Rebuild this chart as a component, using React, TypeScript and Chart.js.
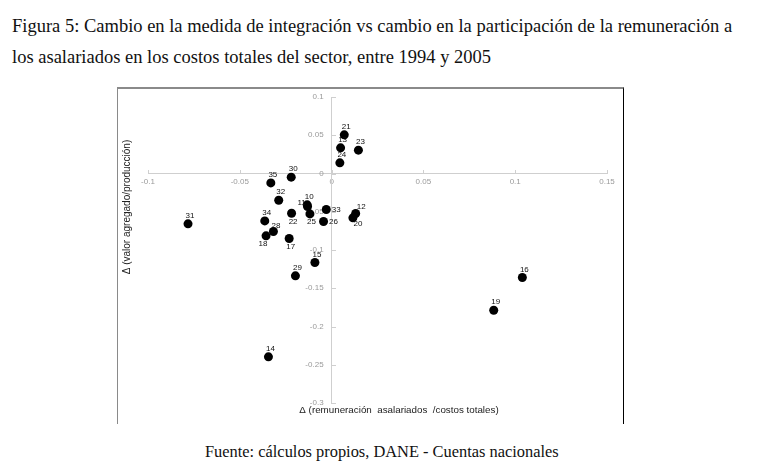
import React, { useEffect, useRef } from "react";
import { Chart, registerables } from "chart.js";

Chart.register(...registerables);

// ---- data ----
const SECTORS = ["10", "11", "12", "13", "14", "15", "16", "17", "18", "19", "20", "21", "22", "23", "24", "25", "26", "28", "29", "30", "31", "32", "33", "34", "35"];
const X_VALUES = [-0.0133, -0.0131, 0.0131, 0.0049, -0.0344, -0.0091, 0.1039, -0.0231, -0.0357, 0.0883, 0.0116, 0.0069, -0.0218, 0.0146, 0.0045, -0.0118, -0.0044, -0.0317, -0.0197, -0.022, -0.0782, -0.0288, -0.0029, -0.0364, -0.0331];
const Y_VALUES = [-0.041, -0.0433, -0.0523, 0.0335, -0.2397, -0.1163, -0.136, -0.085, -0.0815, -0.1787, -0.058, 0.0505, -0.052, 0.0305, 0.0139, -0.0528, -0.0627, -0.0758, -0.1338, -0.0048, -0.0658, -0.0349, -0.047, -0.062, -0.0123];
const LABEL_ANCHORS = ["t", "tl", "tr", "t", "t", "t", "t", "b", "bl", "t", "br", "t", "b", "t", "t", "b", "r", "ts", "t", "t", "t", "t", "r", "t", "t"];

const X_TICKS = [-0.1, -0.05, 0, 0.05, 0.1, 0.15];
const Y_TICKS = [0.1, 0.05, 0, -0.05, -0.1, -0.15, -0.2, -0.25, -0.3];

const TITLE_LINES = [
  "Figura 5: Cambio en la medida de integración vs cambio en la participación de la remuneración a",
  "los asalariados en los costos totales del sector, entre 1994 y 2005",
];
const SOURCE_NOTE = "Fuente: cálculos propios, DANE - Cuentas nacionales";
const X_TITLE = "Δ (remuneración  asalariados  /costos totales)";
const Y_TITLE = "Δ (valor agregado/producción)";

// ---- styles ----
const SANS = '"Liberation Sans", Arial, sans-serif';
const SERIF = '"Liberation Serif", "Times New Roman", serif';
const AXIS_COLOR = "#cfcfcf";
const TICK_TEXT = "#9a9a9a";
const Y_LABEL_GAP = "\u2002\u2002";
const ANCHOR_OFFSETS: Record<string, [number, number]> = {
  t: [2, -8],
  ts: [2.5, -6],
  b: [1.5, 8.3],
  bl: [-3, 7.7],
  r: [10, 0.5],
  tl: [-6, -3.5],
  tr: [5.5, -6.7],
  br: [5, 5.5],
};

const fmt = (v: number) => String(parseFloat(v.toFixed(2)));

const tickMarksPlugin = {
  id: "tickMarks",
  beforeDatasetsDraw(chart: any) {
    const { ctx, scales } = chart;
    const xs = scales.x;
    const ys = scales.y;
    const y0 = ys.getPixelForValue(0);
    const x0 = xs.getPixelForValue(0);
    ctx.save();
    ctx.strokeStyle = AXIS_COLOR;
    ctx.lineWidth = 1;
    ctx.beginPath();
    xs.ticks.forEach((t: any) => {
      const px = Math.round(xs.getPixelForValue(t.value)) + 0.5;
      ctx.moveTo(px, Math.round(y0));
      ctx.lineTo(px, Math.round(y0) - 4);
    });
    ys.ticks.forEach((t: any) => {
      const py = Math.round(ys.getPixelForValue(t.value)) + 0.5;
      ctx.moveTo(Math.round(x0), py);
      ctx.lineTo(Math.round(x0) + 4, py);
    });
    ctx.stroke();
    ctx.restore();
  },
};

const pointLabelsPlugin = {
  id: "pointLabels",
  afterDatasetsDraw(chart: any) {
    const { ctx } = chart;
    const meta = chart.getDatasetMeta(0);
    ctx.save();
    ctx.font = `8px ${SANS}`;
    ctx.fillStyle = "#111";
    ctx.textAlign = "center";
    ctx.textBaseline = "middle";
    meta.data.forEach((el: any, i: number) => {
      const [dx, dy] = ANCHOR_OFFSETS[LABEL_ANCHORS[i]] || [2, -8];
      ctx.fillText(SECTORS[i], el.x + dx, el.y + dy);
    });
    ctx.restore();
  },
};

const axisTitlesPlugin = {
  id: "axisTitles",
  afterDraw(chart: any) {
    const { ctx, chartArea } = chart;
    ctx.save();
    ctx.fillStyle = "#222";
    ctx.textAlign = "center";
    ctx.textBaseline = "middle";
    ctx.font = `9.8px ${SANS}`;
    ctx.fillText(X_TITLE, chartArea.left + 251, chartArea.bottom + 7);
    ctx.translate(chartArea.left - 20.5, chartArea.top + 110);
    ctx.rotate(-Math.PI / 2);
    ctx.font = `10px ${SANS}`;
    ctx.fillText(Y_TITLE, 0, 0);
    ctx.restore();
  },
};

function ScatterChart() {
  const ref = useRef<HTMLCanvasElement | null>(null);
  useEffect(() => {
    if (!ref.current) return;
    const chart = new Chart(ref.current, {
      type: "scatter",
      data: {
        datasets: [
          {
            data: X_VALUES.map((x, i) => ({ x, y: Y_VALUES[i] })),
            backgroundColor: "#000",
            borderWidth: 0,
            pointRadius: 4.5,
            pointHoverRadius: 4.5,
          },
        ],
      },
      options: {
        animation: false,
        responsive: true,
        maintainAspectRatio: false,
        layout: { padding: { left: 30, right: 16, top: 8, bottom: 20 } },
        plugins: { legend: { display: false }, tooltip: { enabled: false } },
        events: [],
        scales: {
          x: {
            type: "linear",
            position: { y: 0 } as any,
            min: X_TICKS[0],
            max: X_TICKS[X_TICKS.length - 1],
            afterBuildTicks: (s: any) => {
              s.ticks = X_TICKS.map((v) => ({ value: v }));
            },
            grid: { display: false, drawTicks: false },
            border: { display: true, color: AXIS_COLOR, width: 1 },
            ticks: {
              color: TICK_TEXT,
              font: { family: SANS, size: 8 },
              padding: 3,
              maxRotation: 0,
              callback: (v: any) => fmt(Number(v)),
            },
          },
          y: {
            type: "linear",
            position: { x: 0 } as any,
            min: Y_TICKS[Y_TICKS.length - 1],
            max: Y_TICKS[0],
            afterBuildTicks: (s: any) => {
              s.ticks = Y_TICKS.map((v) => ({ value: v }));
            },
            grid: { display: false, drawTicks: false },
            border: { display: true, color: AXIS_COLOR, width: 1 },
            ticks: {
              color: TICK_TEXT,
              font: { family: SANS, size: 8 },
              padding: 0,
              callback: (v: any) => fmt(Number(v)) + Y_LABEL_GAP,
            },
          },
        },
      },
      plugins: [tickMarksPlugin, pointLabelsPlugin, axisTitlesPlugin],
    });
    return () => chart.destroy();
  }, []);
  return <canvas ref={ref} />;
}

export default function App() {
  return (
    <div style={{ position: "absolute", left: 0, top: 0, width: 759, height: 473, background: "#fff", overflow: "hidden" }}>
      <div style={{ position: "absolute", left: 12, top: 16, whiteSpace: "nowrap", fontFamily: SERIF, fontSize: 18.5, lineHeight: "20px", color: "#111" }}>
        {TITLE_LINES[0]}
      </div>
      <div style={{ position: "absolute", left: 12, top: 47, whiteSpace: "nowrap", fontFamily: SERIF, fontSize: 18.5, lineHeight: "20px", color: "#111" }}>
        {TITLE_LINES[1]}
      </div>
      <div
        style={{
          position: "absolute",
          left: 117,
          top: 87,
          width: 507,
          height: 337,
          boxSizing: "border-box",
          borderTop: "2px solid #8a8a8a",
          borderLeft: "1px solid #8a8a8a",
          borderRight: "1px solid #000",
        }}
      />
      <div style={{ position: "absolute", left: 118, top: 89, width: 505, height: 334 }}>
        <ScatterChart />
      </div>
      <div style={{ position: "absolute", left: 205, top: 442, whiteSpace: "nowrap", fontFamily: SERIF, fontSize: 16.4, lineHeight: "20px", color: "#111" }}>
        {SOURCE_NOTE}
      </div>
    </div>
  );
}
